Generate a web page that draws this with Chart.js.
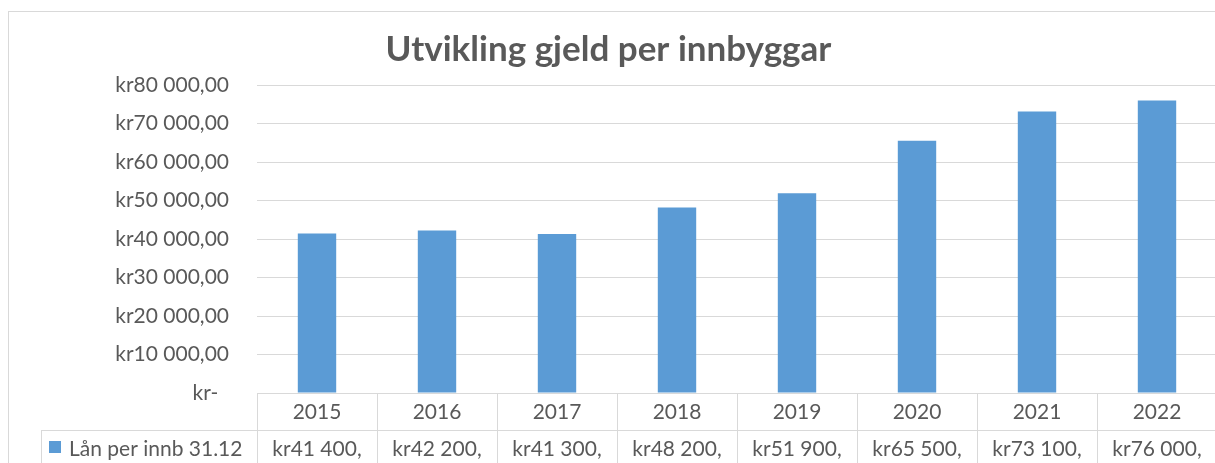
<!DOCTYPE html>
<html>
<head>
<meta charset="utf-8">
<script src="https://cdn.jsdelivr.net/npm/chart.js@4"></script>
<style>
  html, body { margin: 0; padding: 0; overflow: hidden; background: #fff; }
  #wrap { position: absolute; left: 0; top: 0; }
</style>
</head>
<body>
<div id="wrap"><canvas id="gjeldChart" width="1240" height="520"></canvas></div>
<script>
// data
const years = ['2015', '2016', '2017', '2018', '2019', '2020', '2021', '2022'];
const loanPerCapita = [41400, 42200, 41300, 48200, 51900, 65500, 73100, 76000];
const seriesLabel = 'Lån per innb 31.12';
const chartTitle = 'Utvikling gjeld per innbyggar';

const textColor = '#595959';
const lineColor = '#d9d9d9';
const barColor = '#5b9bd5';
const fontFamily = 'Lato, "Liberation Sans", sans-serif';
const labelSize = 21;

function thousands(v) {
    const k = Math.floor(v / 1000);
    const rest = String(v % 1000).padStart(3, '0');
    return k > 0 ? k + ' ' + rest : String(v % 1000);
}

// y axis labels, e.g. kr80 000,00
function axisLabel(v) {
    if (v === 0) return 'kr-\u00a0\u00a0';
    return 'kr' + thousands(v) + ',00';
}

// table cells are cut off like in the spreadsheet: kr41 400,
function cellLabel(v) {
    return 'kr' + thousands(v) + ',';
}

// draws the outer frame and the data table under the plot
const dataTable = {
    id: 'dataTable',
    afterDraw(chart) {
        const c = chart.ctx;
        const area = chart.chartArea;
        const x = chart.scales.x;
        const band = (area.right - area.left) / years.length;
        const row1 = area.bottom;
        const row2 = row1 + 37;
        const row3 = row2 + 37;

        c.save();
        c.strokeStyle = lineColor;
        c.lineWidth = 1;

        // chart frame
        c.strokeRect(8.5, 11.5, chart.width, chart.height);

        c.beginPath();
        c.moveTo(area.left, row1 + 0.5);
        c.lineTo(area.right, row1 + 0.5);
        c.moveTo(41, row2 + 0.5);
        c.lineTo(area.right, row2 + 0.5);
        c.moveTo(41, row3 + 0.5);
        c.lineTo(area.right, row3 + 0.5);
        for (let i = 0; i <= years.length; i++) {
            const px = Math.round(area.left + i * band) + 0.5;
            c.moveTo(px, row1);
            c.lineTo(px, row3);
        }
        c.moveTo(41.5, row2);
        c.lineTo(41.5, row3);
        c.stroke();

        c.fillStyle = textColor;
        c.font = labelSize + 'px ' + fontFamily;
        c.textAlign = 'center';
        c.textBaseline = 'middle';
        years.forEach((y, i) => {
            const cx = x.getPixelForValue(i);
            c.fillText(y, cx, (row1 + row2) / 2 + 1);
            c.fillText(cellLabel(loanPerCapita[i]), cx, (row2 + row3) / 2 + 1);
        });

        // legend key + series name
        c.fillStyle = barColor;
        c.fillRect(49, row2 + 11, 12, 12);
        c.fillStyle = textColor;
        c.textAlign = 'left';
        c.fillText(seriesLabel, 69, (row2 + row3) / 2 + 1);
        c.restore();
    }
};

const ctx = document.getElementById('gjeldChart').getContext('2d');

const chart = new Chart(ctx, {
    type: 'bar',
    data: {
        labels: years,
        datasets: [
            {
                label: seriesLabel,
                data: loanPerCapita,
                backgroundColor: barColor,
                borderWidth: 0,
                categoryPercentage: 1,
                barPercentage: 0.32
            }
        ]
    },
    options: {
        responsive: false,
        animation: false,
        layout: {
            padding: { left: 0, right: 23, top: 0, bottom: 127 }
        },
        plugins: {
            legend: { display: false },
            tooltip: { enabled: false },
            title: {
                display: true,
                text: chartTitle,
                color: textColor,
                font: { family: fontFamily, size: 35, weight: 'bold' },
                padding: { top: 29, bottom: 14 }
            }
        },
        scales: {
            x: {
                display: false,
                offset: true
            },
            y: {
                min: 0,
                max: 80000,
                border: { display: false },
                grid: {
                    color: lineColor,
                    drawTicks: false
                },
                ticks: {
                    stepSize: 10000,
                    padding: 28,
                    color: textColor,
                    font: { family: fontFamily, size: labelSize },
                    callback: (v) => axisLabel(v)
                },
                afterFit: (scale) => { scale.width = 257; }
            }
        }
    },
    plugins: [dataTable]
});
</script>
</body>
</html>
